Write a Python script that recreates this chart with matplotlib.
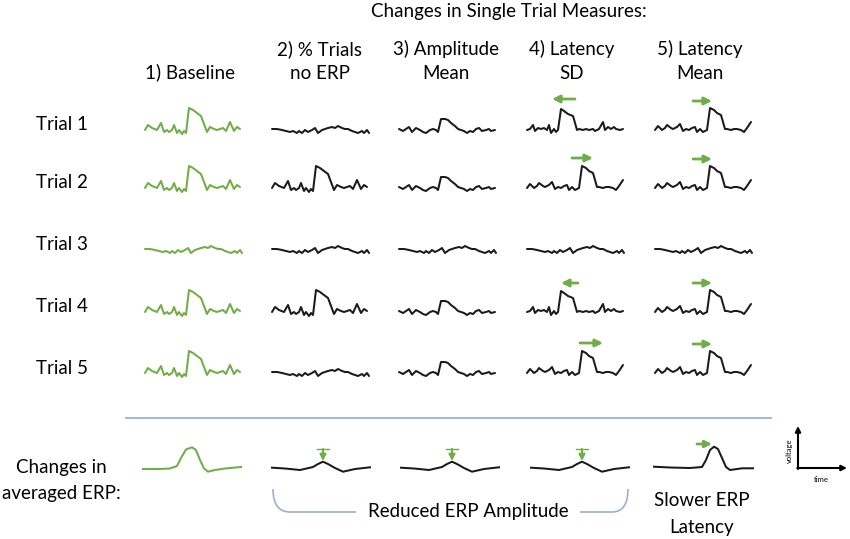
import numpy as np
import matplotlib
matplotlib.use("Agg")
import matplotlib.pyplot as plt
from matplotlib.path import Path
from matplotlib.patches import PathPatch

plt.rcParams['font.family'] = ['Lato', 'DejaVu Sans']

# waveform templates: x offset from cell start (px), y offset above baseline (px)
ERP_DX = [0, 3, 7, 12, 16, 19, 22, 24, 27, 29, 32, 34, 37, 39, 41, 44, 48, 52, 56, 62, 65, 69, 72, 75, 78, 81, 85, 89, 92, 95]
ERP_DY = [0, 5, 2, 0, 7, -2, 0, -2, 0, 5, -3, 0, -4, -1, -3, 22, 20, 17, 14, -2, 3, 1, 0, 1, 2, -1, 8, -1, 3, 1]

NOISE_DX = [0, 5, 10, 14, 18, 21, 25, 27, 30, 33, 36, 40, 43, 46, 50, 53, 56, 60, 63, 66, 70, 73, 76, 80, 83, 86, 90, 92, 95, 97]
NOISE_DY = [1, 1, 0, -1, -2, -1, -3, -1, -3, 0, -2, 0, 2, -3, 0, 1, 2, 3, 2, 4, 2, 1, 1, -1, -2, -3, -1, -3, 0, -3]

SMALL_DX = [0, 4, 7, 10, 13, 17, 21, 24, 27, 31, 34, 37, 39, 42, 46, 49, 52, 56, 59, 62, 65, 68, 71, 74, 77, 80, 83, 87, 90, 92, 96]
SMALL_DY = [1, -1, 1, 3, -2, 2, 0, -2, -3, 0, 1, 0, -2, 11, 11, 10, 7, 4, 1, 0, -1, -3, -1, -2, 1, 2, -1, 0, 1, -1, 0]

EARLY_DX = [0, 3, 6, 8, 11, 14, 17, 20, 22, 24, 27, 29, 31, 34, 37, 41, 46, 50, 52, 56, 59, 62, 66, 68, 72, 76, 78, 81, 84, 87, 89, 93, 96]
EARLY_DY = [0, 1, 5, -1, 2, 1, 2, 0, 5, -3, 1, -2, 0, 21, 19, 16, 14, 0, 1, 0, 1, 0, 1, -1, 1, 8, 0, 3, 1, 3, 1, 0, 1]

LATE_DX = [0, 3, 7, 10, 12, 16, 18, 22, 25, 28, 31, 34, 37, 40, 42, 45, 48, 52, 55, 59, 62, 66, 70, 72, 76, 79, 82, 86, 89, 92, 96]
LATE_DY = [0, 4, 0, 2, 5, 2, 1, 3, 6, -1, 1, 0, 2, 3, -2, 1, -2, 0, 22, 20, 17, 15, 1, 1, 0, 1, 1, 0, -2, 2, 8]

# averaged ERP templates
AVG_DX = [0, 17, 27, 34, 38, 43, 49, 53, 57, 61, 65, 72, 82, 98]
AVG_DY = [0, 0, 0.5, 3, 11, 19.5, 21.7, 19, 9, 0.5, -2.7, -1, 0.5, 2]

AVG_SMALL_DX = [0, 13, 28, 41, 46, 51, 56, 63, 71, 83, 98]
AVG_SMALL_DY = [0.3, -0.5, -2, 1, 4, 6.3, 4, 0, -3.7, -1, 0.7]

AVG_LATE_DX = [0, 16, 36, 48, 52, 56, 60, 64, 68, 72, 76, 88, 99]
AVG_LATE_DY = [1.3, 0.5, 0, 1, 8, 18, 21.3, 19, 10, 1, -2, -0.3, -0.3]

templates = {
    'erp': (ERP_DX, ERP_DY),
    'noise': (NOISE_DX, NOISE_DY),
    'small': (SMALL_DX, SMALL_DY),
    'early': (EARLY_DX, EARLY_DY),
    'late': (LATE_DX, LATE_DY),
}

trial_labels = ['Trial 1', 'Trial 2', 'Trial 3', 'Trial 4', 'Trial 5']
col_headers = ['1) Baseline', '2) % Trials\nno ERP', '3) Amplitude\nMean', '4) Latency\nSD', '5) Latency\nMean']

# which template each trial uses, one list per column
grid = [
    ['erp', 'erp', 'noise', 'erp', 'erp'],
    ['noise', 'erp', 'noise', 'erp', 'noise'],
    ['small', 'small', 'noise', 'small', 'small'],
    ['early', 'late', 'noise', 'early', 'late'],
    ['late', 'late', 'noise', 'late', 'late'],
]

GREEN = '#70AD47'
BLACK = '#1a1a1a'
BLUE = '#9AB0D4'

col_x = [145, 272, 399, 527, 655]
col_mid = [190, 320, 446, 572, 700]
row_y = [130, 188, 250, 312, 373]

fig = plt.figure(figsize=(8.5, 5.39), dpi=100)
ax = fig.add_axes([0, 0, 1, 1])
ax.set_xlim(0, 850)
ax.set_ylim(539, 0)
ax.axis('off')

fs = 13.5
LW = 1.45

# header
ax.text(509, 12, 'Changes in Single Trial Measures:', ha='center', va='center', fontsize=fs)
for c, h in enumerate(col_headers):
    y = 72 if c == 0 else 61
    ax.text(col_mid[c], y, h, ha='center', va='center', fontsize=fs, linespacing=1.45)

for r, lab in enumerate(trial_labels):
    ax.text(62, row_y[r] - 5, lab, ha='center', va='center', fontsize=fs)

# single trial waveforms
for c in range(5):
    color = GREEN if c == 0 else BLACK
    for r in range(5):
        dx, dy = templates[grid[c][r]]
        ax.plot(col_x[c] + np.array(dx), row_y[r] - np.array(dy), color=color, lw=LW,
                solid_joinstyle='round', solid_capstyle='round')

# latency arrows
def arrow(x0, x1, y, ms=11):
    ax.annotate('', xy=(x1, y), xytext=(x0, y),
                arrowprops=dict(arrowstyle='-|>', color=GREEN, lw=2, mutation_scale=ms,
                                shrinkA=0, shrinkB=0))

arrow(575, 552, 99)
arrow(572, 593, 158)
arrow(578, 561, 283)
arrow(580, 603, 343)
for r in [0, 1, 3, 4]:
    arrow(693, 712, row_y[r] - 29)

# separator
ax.plot([126, 771], [418, 418], color=BLUE, lw=1.3)

# averaged ERPs
ax.text(61, 468, 'Changes in', ha='center', va='center', fontsize=fs)
ax.text(61, 494, 'averaged ERP:', ha='center', va='center', fontsize=fs)

ax.plot(143 + np.array(AVG_DX), 469 - np.array(AVG_DY), color=GREEN, lw=LW,
        solid_joinstyle='round')
for x0 in [272, 401, 531]:
    ax.plot(x0 + np.array(AVG_SMALL_DX), 468 - np.array(AVG_SMALL_DY), color=BLACK, lw=LW,
            solid_joinstyle='round')
    px = x0 + 51
    ax.plot([px - 6, px + 6], [449, 449], color=GREEN, lw=1)
    ax.annotate('', xy=(px, 461), xytext=(px, 449),
                arrowprops=dict(arrowstyle='-|>', color=GREEN, lw=1.5, mutation_scale=9,
                                shrinkA=0, shrinkB=0))
ax.plot(654 + np.array(AVG_LATE_DX), 468 - np.array(AVG_LATE_DY), color=BLACK, lw=LW,
        solid_joinstyle='round')
arrow(697, 712, 444, ms=10)

# bracket
verts = [(273, 489), (273, 512), (290, 512), (356, 512)]
codes = [Path.MOVETO, Path.CURVE3, Path.CURVE3, Path.LINETO]
ax.add_patch(PathPatch(Path(verts, codes), fill=False, edgecolor=BLUE, lw=1.2))
verts = [(580, 512), (612, 512), (628, 512), (628, 489)]
codes = [Path.MOVETO, Path.LINETO, Path.CURVE3, Path.CURVE3]
ax.add_patch(PathPatch(Path(verts, codes), fill=False, edgecolor=BLUE, lw=1.2))
ax.text(468, 512, 'Reduced ERP Amplitude', ha='center', va='center', fontsize=fs)
ax.text(702, 501, 'Slower ERP', ha='center', va='center', fontsize=fs)
ax.text(702, 527, 'Latency', ha='center', va='center', fontsize=fs)

# axes icon
ax.annotate('', xy=(798, 426), xytext=(798, 469),
            arrowprops=dict(arrowstyle='-|>', color='black', lw=1.5, mutation_scale=8,
                            shrinkA=0, shrinkB=0))
ax.annotate('', xy=(847, 468), xytext=(797.3, 468),
            arrowprops=dict(arrowstyle='-|>', color='black', lw=1.5, mutation_scale=8,
                            shrinkA=0, shrinkB=0))
ax.text(789.5, 451, 'voltage', rotation=90, ha='center', va='center', fontsize=5.5)
ax.text(821, 479, 'time', ha='center', va='center', fontsize=5.5)

fig.savefig('out.png', dpi=100)
